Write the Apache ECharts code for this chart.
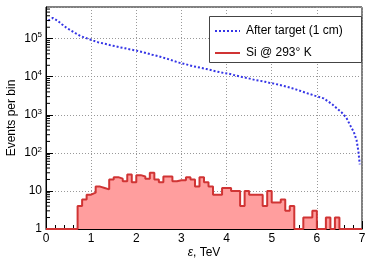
<!DOCTYPE html>
<html><head><meta charset="utf-8">
<script src="https://cdn.jsdelivr.net/npm/echarts@6/dist/echarts.min.js"></script>
<style>html,body{margin:0;padding:0;background:#fff}#c{width:374px;height:265px}</style>
</head><body><div id="c"></div>
<script>
// ---- data ----
const blueName = 'After target (1 cm)';
const redName = 'Si @ 293\u00B0 K';
const blueX = [0.05,0.15,0.25,0.35,0.45,0.55,0.65,0.75,0.85,0.95,
  1.05,1.15,1.25,1.35,1.45,1.55,1.65,1.75,1.85,1.95,
  2.05,2.15,2.25,2.35,2.45,2.55,2.65,2.75,2.85,2.95,
  3.05,3.15,3.25,3.35,3.45,3.55,3.65,3.75,3.85,3.95,
  4.05,4.15,4.25,4.35,4.45,4.55,4.65,4.75,4.85,4.95,
  5.05,5.15,5.25,5.35,5.45,5.55,5.65,5.75,5.85,5.95,
  6.05,6.15,6.25,6.35,6.45,6.55,6.65,6.75,6.82,6.88,6.92,6.95];
const blueY = [3.0e5,3.5e5,3.0e5,2.4e5,1.95e5,1.65e5,1.4e5,1.2e5,1.07e5,9.8e4,
  8.9e4,8.1e4,7.6e4,7.1e4,6.6e4,6.3e4,5.9e4,5.6e4,5.25e4,5.0e4,
  4.7e4,4.4e4,4.1e4,3.8e4,3.55e4,3.3e4,3.05e4,2.8e4,2.55e4,2.35e4,
  2.2e4,2.05e4,1.9e4,1.8e4,1.7e4,1.6e4,1.5e4,1.4e4,1.32e4,1.25e4,
  1.2e4,1.12e4,1.05e4,9.8e3,9.3e3,8.7e3,8.1e3,7.8e3,7.4e3,6.9e3,
  6.6e3,6.2e3,5.8e3,5.4e3,5.0e3,4.6e3,4.2e3,3.8e3,3.5e3,3.2e3,
  2.95e3,2.7e3,2.25e3,1.85e3,1.45e3,1.15e3,850,500,350,215,110,50];
// red histogram: 70 bins of width 0.1 from 0 to 7 (empty bins drawn at axis floor = 1)
const redBinStart = 0, redBinWidth = 0.1;
const redCounts = [1,1,1,1,1,1,1,4,6,8,
  9,13,12,11,20,23,21,18,27,17,
  26,24,21,30,20,17,24,24,18,19,
  19,23,20,13,23,17,13,8,8,12,
  12,10,10,4,10,8,8,8,4,10,
  5,5,6,3,4,1,1,2,2,3,
  1,1,2,1,2,1,1,1,1,1];
const xTicks = [0,1,2,3,4,5,6,7];
const yExponents = [0,1,2,3,4,5];

// ---- build ----
const bluePts = blueX.map((x,i)=>[x, blueY[i]]);
const redPts = redCounts.map((v,i)=>[+(redBinStart + i*redBinWidth).toFixed(2), v]);
redPts.push([+(redBinStart + redCounts.length*redBinWidth).toFixed(2), redCounts[redCounts.length-1]]);

const yMax = 6.8e5;
const minorY = [];
yExponents.forEach(k=>{ for(let m=2;m<=9;m++){ const v=m*Math.pow(10,k); if(v<yMax) minorY.push([0,v]); } });

const BLUE = '#3535e6', RED = '#d03434';
const FONT = 'Liberation Sans, Arial, Helvetica, sans-serif';
const chart = echarts.init(document.getElementById('c'), null, {renderer:'canvas'});
chart.setOption({
  animation:false,
  backgroundColor:'#fff',
  grid:{left:46,right:12,top:7,bottom:36,show:true,borderColor:'#000',borderWidth:1,backgroundColor:'transparent',
    containLabel:false,outerBoundsMode:'none'},
  graphic:[
    {type:'rect',z:3,shape:{x:209.5,y:16.5,width:152,height:46},style:{fill:'#fff',stroke:'#444',lineWidth:1}},
    {type:'line',z:6,shape:{x1:215,y1:31,x2:240,y2:31},style:{stroke:BLUE,lineWidth:2,lineDash:[2,2]}},
    {type:'line',z:6,shape:{x1:215,y1:53,x2:240,y2:53},style:{stroke:RED,lineWidth:2}}
  ],
  legend:{orient:'vertical',left:214,top:24,padding:0,itemWidth:27,itemHeight:14,itemGap:8,z:5,
    textStyle:{fontSize:12,fontFamily:FONT,color:'#000'},
    data:[{name:blueName,icon:'rect',itemStyle:{color:'rgba(0,0,0,0)',borderWidth:0,opacity:0}},
          {name:redName,icon:'rect',itemStyle:{color:'rgba(0,0,0,0)',borderWidth:0,opacity:0}}]},
  xAxis:{type:'value',min:0,max:7,interval:1,
    axisLine:{show:true,lineStyle:{color:'#000',width:1}},
    axisTick:{show:true,inside:true,length:8,lineStyle:{color:'#000'}},
    minorTick:{show:true,splitNumber:5,length:4,lineStyle:{color:'#000'}},
    axisLabel:{fontSize:12,fontFamily:FONT,color:'#000',margin:4,formatter:v=>xTicks.includes(v)?String(v):''},
    splitLine:{show:true,lineStyle:{color:'#999',type:[1,2],width:1}},
    name:'{i|\u03B5}, TeV',nameLocation:'middle',nameGap:18,nameMoveOverlap:false,
    nameTextStyle:{fontSize:12,fontFamily:FONT,color:'#000',rich:{i:{fontStyle:'italic',fontSize:12,fontFamily:FONT}}}},
  yAxis:{type:'log',logBase:10,min:1,max:yMax,
    axisLine:{show:true,lineStyle:{color:'#000',width:1}},
    axisTick:{show:true,inside:true,length:7,lineStyle:{color:'#000'}},
    axisLabel:{fontSize:12,fontFamily:FONT,color:'#000',margin:4,showMaxLabel:false,
      formatter:v=>{const l=Math.log10(v);const k=Math.round(l); if(Math.abs(l-k)>0.01||!yExponents.includes(k))return ''; if(k===0)return '1'; if(k===1)return '10'; return '{b|10}{s|'+k+'}';},
      rich:{b:{fontSize:12,fontFamily:FONT,color:'#000'},s:{fontSize:8,fontFamily:FONT,color:'#000',padding:[0,0,7,0]}}},
    splitLine:{show:true,lineStyle:{color:'#999',type:[1,2],width:1}},
    name:'Events per bin',nameLocation:'middle',nameGap:28,nameMoveOverlap:false,
    nameTextStyle:{fontSize:12,fontFamily:FONT,color:'#000'}},
  series:[
    {name:redName,type:'line',step:'end',data:redPts,symbol:'none',z:2,
      lineStyle:{color:RED,width:2},itemStyle:{color:RED},
      areaStyle:{color:'#ff9e9e',origin:'start',opacity:1}},
    {name:blueName,type:'line',data:bluePts,symbol:'none',z:3,
      lineStyle:{color:BLUE,width:2,type:[2,2]},itemStyle:{color:BLUE}},
    {type:'custom',data:minorY,z:4,silent:true,
      renderItem:(params,api)=>{const p=api.coord([0,api.value(1)]);return {type:'line',shape:{x1:p[0],y1:p[1],x2:p[0]+4,y2:p[1]},style:{stroke:'#000',lineWidth:1}};}}
  ]
});
</script></body></html>
